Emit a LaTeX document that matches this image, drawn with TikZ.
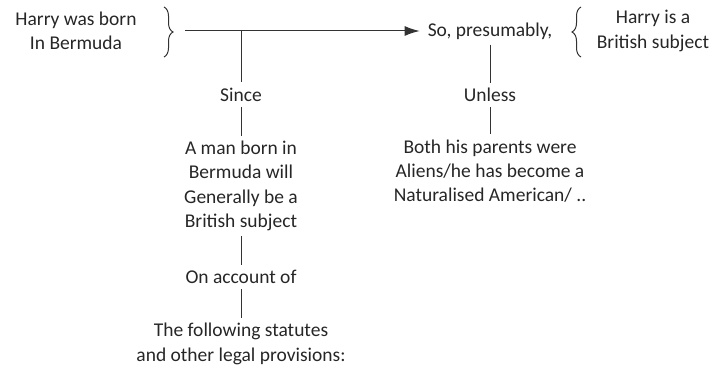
\documentclass[tikz,border=0pt]{standalone}
\usepackage{fontspec}
\setmainfont{Carlito}
\usetikzlibrary{arrows.meta,decorations.pathreplacing}

\begin{document}
\begin{tikzpicture}[x=1pt, y=1pt,
    txt/.style={align=center, inner sep=2pt, text=black!85, font=\fontsize{19.5}{24.3}\selectfont},
    link/.style={draw=black!80, line width=1pt},
    gap/.style={shorten <=3pt, shorten >=3pt},
    curly/.style={draw=black!80, line width=1pt, decorate, decoration={brace, amplitude=9pt}}]
    \useasboundingbox (0,0) rectangle (711,-369);

    % Premise and conclusion
    \node[txt] (born) at (76,-31) {Harry was born\\In Bermuda};
    \node[txt] (so) at (490,-31) {So, presumably,};
    \node[txt] (subject) at (653,-31) {Harry is a\\British subject};

    % Braces
    \draw[curly] (164,-7) -- (164,-57);
    \draw[curly] (581,-57) -- (581,-7);

    % Arrow to conclusion
    \coordinate (start) at (185,-31);
    \coordinate (jn) at (241,-31);
    \draw[link, -{Latex[length=15pt, width=10pt]}, shorten >=6pt] (start) -- (so.west);

    % Warrant and backing
    \node[txt] (since) at (241,-95) {Since};
    \node[txt] (man) at (241,-186) {A man born in\\Bermuda will\\Generally be a\\British subject};
    \node[txt] (account) at (241,-277) {On account of};
    \node[txt] (statutes) at (241,-344) {The following statutes\\and other legal provisions:};

    \draw[link, shorten >=4pt] (jn) -- (since);
    \draw[link, gap] (since) -- (man);
    \draw[link, gap] (man) -- (account);
    \draw[link, gap] (account) -- (statutes);

    % Rebuttal
    \node[txt] (unless) at (490,-95) {Unless};
    \node[txt] (parents) at (490,-171) {Both his parents were\\Aliens/he has become a\\Naturalised American/ ..};

    \draw[link, gap] (so) -- (unless);
    \draw[link, gap] (unless) -- (parents);

\end{tikzpicture}
\end{document}
